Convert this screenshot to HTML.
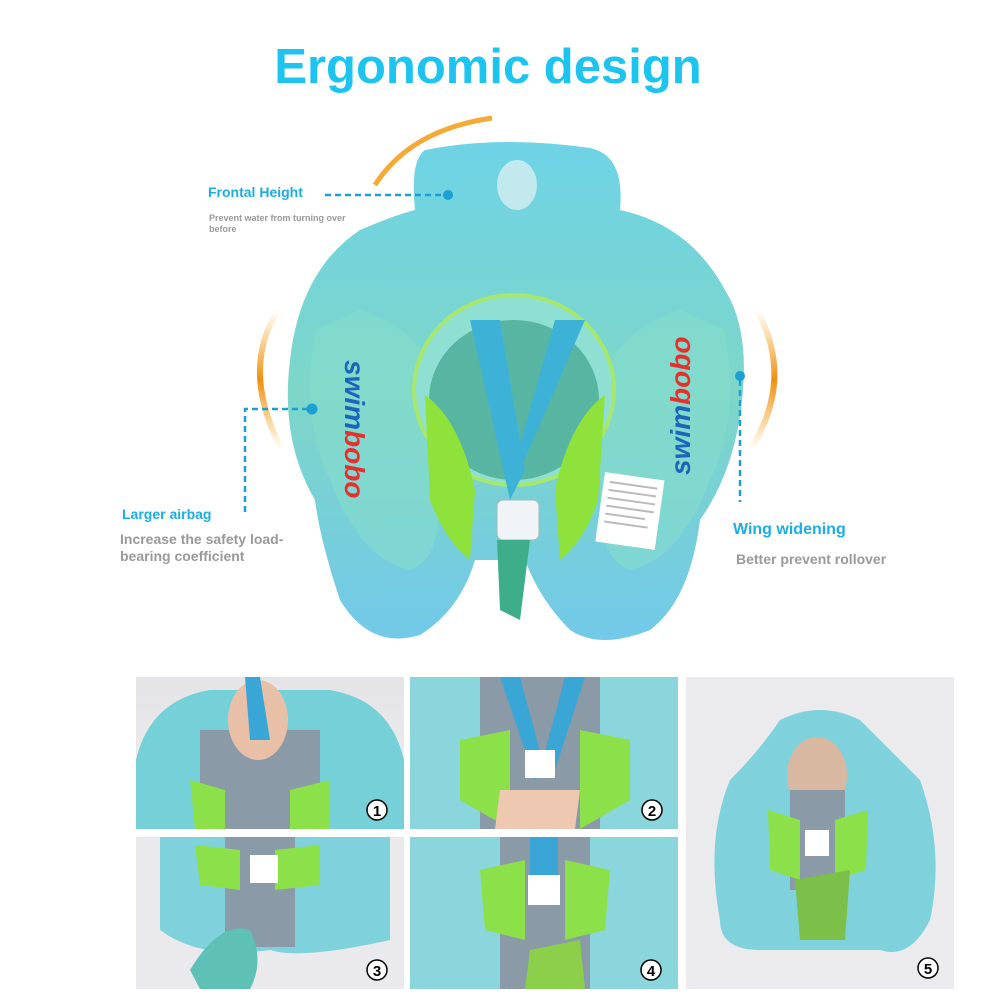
<!DOCTYPE html>
<html><head><meta charset="utf-8"><style>
html,body{margin:0;padding:0;background:#fff;width:1002px;height:1002px;overflow:hidden}
svg{display:block}
text{font-family:"Liberation Sans",sans-serif}
</style></head><body>
<svg width="1002" height="1002" viewBox="0 0 1002 1002" xmlns="http://www.w3.org/2000/svg">
<defs>
<linearGradient id="fl" x1="0" y1="0" x2="0" y2="1">
<stop offset="0" stop-color="#6fd3e6"/><stop offset="0.5" stop-color="#7dd6c8"/><stop offset="1" stop-color="#72c9e8"/></linearGradient>
<linearGradient id="or" x1="0" y1="0" x2="0" y2="1"><stop offset="0" stop-color="#f7a21b" stop-opacity="0"/><stop offset="0.5" stop-color="#f08f10"/><stop offset="1" stop-color="#f7a21b" stop-opacity="0"/></linearGradient>
<linearGradient id="ph" x1="0" y1="0" x2="0" y2="1"><stop offset="0" stop-color="#e4e4e6"/><stop offset="1" stop-color="#f0f0f2"/></linearGradient>
</defs>
<text x="488" y="83" text-anchor="middle" font-size="49" font-weight="bold" fill="#1dc4f0">Ergonomic design</text>

<path d="M375 185 Q410 130 492 118" stroke="#f39a14" stroke-width="5" fill="none" opacity="0.85"/>
<path d="M278 310 Q240 370 282 450" stroke="url(#or)" stroke-width="6" fill="none"/>
<path d="M757 310 Q795 380 750 450" stroke="url(#or)" stroke-width="6" fill="none"/>

<path d="M425 150 Q500 135 590 148 Q625 155 620 210 Q690 225 725 290 Q750 330 742 400 Q735 470 700 520 Q690 600 650 630 Q600 650 570 630 Q540 600 525 560 L475 560 Q460 610 420 635 Q370 650 340 600 Q320 540 315 500 Q280 440 290 360 Q300 270 360 230 Q395 215 415 210 Q410 160 425 150 Z" fill="url(#fl)"/>
<path d="M315 330 Q300 420 330 480 Q360 560 410 570 Q440 560 440 500 L440 380 Q420 330 360 310 Z" fill="#86dccb" opacity="0.6"/>
<path d="M725 330 Q740 420 710 480 Q680 560 630 570 Q600 560 600 500 L600 380 Q620 330 680 310 Z" fill="#86dccb" opacity="0.6"/>
<ellipse cx="514" cy="390" rx="100" ry="95" fill="#8fe0d2" stroke="#a6e86e" stroke-width="4"/>
<ellipse cx="514" cy="400" rx="85" ry="80" fill="#58b5a2"/>
<path d="M425 395 Q460 420 475 490 L470 560 Q445 540 430 500 Z" fill="#8fe13b"/>
<path d="M605 395 Q570 420 555 490 L560 560 Q585 540 598 500 Z" fill="#8fe13b"/>
<path d="M470 320 L500 320 L525 470 L510 500 Z" fill="#3eb2d6"/>
<path d="M555 320 L585 320 L520 470 L510 480 Z" fill="#3eb2d6"/>
<rect x="497" y="500" width="42" height="40" rx="6" fill="#f0f4f6" stroke="#9bb" />
<path d="M497 540 L530 540 L520 620 L500 610 Z" fill="#3eae8a"/>
<rect x="600" y="476" width="60" height="70" fill="#fff" transform="rotate(8 630 510)"/>
<g fill="#bbb" transform="rotate(8 630 510)"><rect x="606" y="484" width="48" height="2"/><rect x="606" y="492" width="48" height="2"/><rect x="606" y="500" width="48" height="2"/><rect x="606" y="508" width="48" height="2"/><rect x="606" y="516" width="40" height="2"/><rect x="606" y="524" width="44" height="2"/></g>
<text transform="translate(345 360) rotate(90)" font-size="28" font-weight="bold" fill="#1a66b8" font-style="italic">swim<tspan fill="#e53030">bobo</tspan></text>
<text transform="translate(690 475) rotate(-90)" font-size="28" font-weight="bold" fill="#1a66b8" font-style="italic">swim<tspan fill="#e53030">bobo</tspan></text>
<ellipse cx="517" cy="185" rx="20" ry="25" fill="#e6f2f4" opacity="0.7"/>

<text x="208" y="197" font-size="14" font-weight="bold" fill="#1aaee6">Frontal Height</text>
<text x="209" y="221" font-size="9" font-weight="bold" fill="#999">Prevent water from turning over</text>
<text x="209" y="232" font-size="9" font-weight="bold" fill="#999">before</text>
<line x1="325" y1="195" x2="445" y2="195" stroke="#1d9ed4" stroke-width="2.5" stroke-dasharray="6 4"/>
<circle cx="448" cy="195" r="5" fill="#1d9ed4"/>
<path d="M245 512 L245 409 L310 409" stroke="#1d9ed4" stroke-width="2.5" stroke-dasharray="6 4" fill="none"/>
<circle cx="312" cy="409" r="5.5" fill="#1d9ed4"/>
<text x="122" y="519" font-size="14" font-weight="bold" fill="#1aaee6">Larger airbag</text>
<text x="120" y="544" font-size="14" font-weight="bold" fill="#999">Increase the safety load-</text>
<text x="120" y="561" font-size="14" font-weight="bold" fill="#999">bearing coefficient</text>
<line x1="740" y1="380" x2="740" y2="502" stroke="#1d9ed4" stroke-width="2.5" stroke-dasharray="6 4"/>
<circle cx="740" cy="376" r="5" fill="#1d9ed4"/>
<text x="733" y="534" font-size="16" font-weight="bold" fill="#1aaee6">Wing widening</text>
<text x="736" y="564" font-size="14" font-weight="bold" fill="#999">Better prevent rollover</text>

<g>
<rect x="136" y="677" width="268" height="152" fill="url(#ph)"/>
<path d="M136 760 Q150 700 210 690 L330 690 Q390 700 404 760 L404 829 L136 829Z" fill="#76d0d8"/>
<rect x="200" y="730" width="120" height="99" fill="#8a9aa6"/>
<ellipse cx="258" cy="720" rx="30" ry="40" fill="#e8c0a8"/>
<path d="M245 677 L260 677 L270 740 L250 740Z" fill="#3aa6d6"/>
<path d="M190 780 L225 790 L225 829 L195 829Z" fill="#8ce04a"/>
<path d="M290 790 L330 780 L330 829 L290 829Z" fill="#8ce04a"/>
<circle cx="377" cy="810" r="10" fill="#fff" stroke="#000" stroke-width="1.5"/>
<text x="377" y="816" font-size="15" font-weight="bold" text-anchor="middle">1</text>
</g>
<g>
<rect x="410" y="677" width="268" height="152" fill="#8ad6dc"/>
<rect x="480" y="677" width="120" height="152" fill="#8a9aa6"/>
<path d="M460 740 L510 730 L510 829 L460 800Z" fill="#8ce04a"/>
<path d="M580 730 L630 740 L630 800 L580 829Z" fill="#8ce04a"/>
<path d="M500 677 L520 677 L545 770 L535 780Z" fill="#3aa6d6"/>
<path d="M565 677 L585 677 L555 770 L540 770Z" fill="#3aa6d6"/>
<rect x="525" y="750" width="30" height="28" fill="#fff"/>
<path d="M500 790 L580 790 L575 829 L495 829Z" fill="#efc8b2"/>
<circle cx="652" cy="810" r="10" fill="#fff" stroke="#000" stroke-width="1.5"/>
<text x="652" y="816" font-size="15" font-weight="bold" text-anchor="middle">2</text>
</g>
<g>
<rect x="136" y="837" width="268" height="152" fill="#eaeaec"/>
<path d="M160 837 L390 837 L390 940 Q300 960 270 950 Q200 960 160 930Z" fill="#7fd2dc"/>
<rect x="225" y="837" width="70" height="110" fill="#8a9aa6"/>
<path d="M195 845 L240 850 L240 890 L200 885Z" fill="#8ce04a"/>
<path d="M275 850 L320 845 L320 885 L275 890Z" fill="#8ce04a"/>
<rect x="250" y="855" width="28" height="28" fill="#fff"/>
<path d="M190 970 Q220 920 250 930 Q265 960 250 989 L200 989Z" fill="#5fc0b6"/>
<circle cx="377" cy="970" r="10" fill="#fff" stroke="#000" stroke-width="1.5"/>
<text x="377" y="976" font-size="15" font-weight="bold" text-anchor="middle">3</text>
</g>
<g>
<rect x="410" y="837" width="268" height="152" fill="#8ad6dc"/>
<rect x="500" y="837" width="90" height="152" fill="#8a9aa6"/>
<path d="M480 870 L525 860 L525 940 L485 930Z" fill="#8ce04a"/>
<path d="M565 860 L610 870 L605 930 L565 940Z" fill="#8ce04a"/>
<rect x="530" y="837" width="28" height="50" fill="#3aa6d6"/>
<rect x="528" y="875" width="32" height="30" fill="#fff"/>
<path d="M530 950 L580 940 L585 989 L525 989Z" fill="#8ccf4a"/>
<circle cx="651" cy="970" r="10" fill="#fff" stroke="#000" stroke-width="1.5"/>
<text x="651" y="976" font-size="15" font-weight="bold" text-anchor="middle">4</text>
</g>
<g>
<rect x="686" y="677" width="268" height="312" fill="#ebebed"/>
<path d="M780 720 Q820 700 860 720 Q900 760 920 780 Q945 850 930 920 Q910 960 880 950 L760 950 Q720 950 720 920 Q705 840 730 780 Q760 750 780 720Z" fill="#7fd2dc"/>
<ellipse cx="817" cy="775" rx="30" ry="38" fill="#d8b8a0"/>
<rect x="790" y="790" width="55" height="100" fill="#8a9aa6"/>
<path d="M768 810 L800 820 L800 880 L770 870Z" fill="#8ce04a"/>
<path d="M835 820 L868 810 L866 870 L835 880Z" fill="#8ce04a"/>
<rect x="805" y="830" width="24" height="26" fill="#fff"/>
<path d="M795 880 L850 870 L845 940 L800 940Z" fill="#7cc04a"/>
<circle cx="928" cy="968" r="10" fill="#fff" stroke="#000" stroke-width="1.5"/>
<text x="928" y="974" font-size="15" font-weight="bold" text-anchor="middle">5</text>
</g>
</svg>
</body></html>
